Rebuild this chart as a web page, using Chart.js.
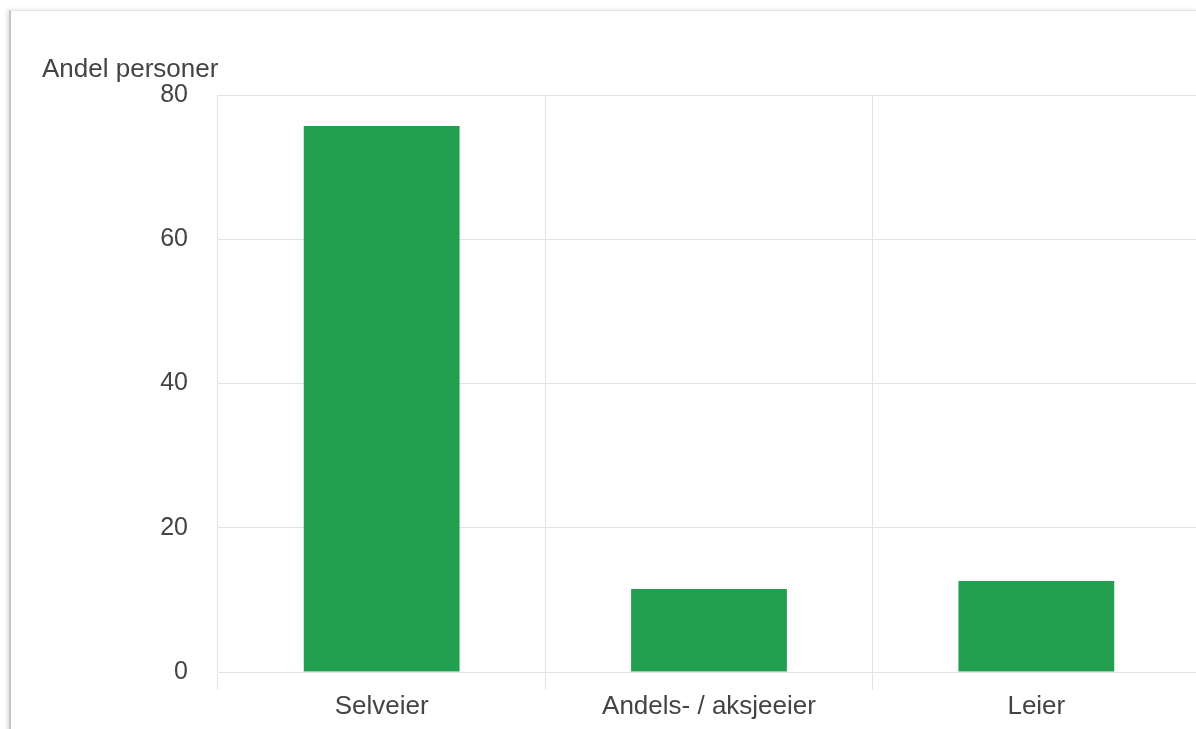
<!DOCTYPE html>
<html>
<head>
<meta charset="utf-8">
<script src="https://cdn.jsdelivr.net/npm/chart.js@4"></script>
<style>
  html, body { margin: 0; padding: 0; background: #fff; overflow: hidden; width: 1196px; height: 729px; }
  #card {
    position: absolute; left: 9px; top: 10px; width: 1186px; height: 740px;
    border-left: 2px solid #c4c4c4; border-top: 1px solid #e4e4e4; border-right: 1px solid #e8e8e8;
    box-shadow: -2px 0 4px rgba(0,0,0,0.12);
  }
  #yTitle {
    position: absolute; left: 42px; top: 55px; line-height: 26px;
    font-family: "Liberation Sans", Arial, sans-serif; font-size: 26px; color: #444;
  }
  #wrap { position: absolute; left: 0; top: 0; width: 1200px; height: 729px; }
</style>
</head>
<body>
<div id="card"></div>
<div id="wrap"><canvas id="chart"></canvas></div>
<div id="yTitle">Andel personer</div>
<script>
// Boligform – andel personer
const categories = ['Selveier', 'Andels- / aksjeeier', 'Leier'];
const shares = [75.7, 11.5, 12.6];
const yTicks = [0, 20, 40, 60, 80];

const GRID = '#e2e2ea';
const TEXT = '#444';
const X_FONT = { family: '"Liberation Sans", Arial, sans-serif', size: 26 };
const Y_FONT = { family: '"Liberation Sans", Arial, sans-serif', size: 25 };

const ctx = document.getElementById('chart').getContext('2d');
new Chart(ctx, {
    type: 'bar',
    data: {
        labels: categories,
        datasets: [{
            label: 'Andel personer',
            data: shares,
            backgroundColor: '#22a04f',
            barPercentage: 0.476,
            categoryPercentage: 1
        }]
    },
    options: {
        responsive: true,
        maintainAspectRatio: false,
        animation: false,
        layout: { padding: { top: 95, left: 0, right: 0, bottom: 0 } },
        plugins: { legend: { display: false }, tooltip: { enabled: false } },
        scales: {
            x: {
                grid: { color: GRID, lineWidth: 1, offset: true, tickLength: 18 },
                border: { color: GRID },
                ticks: { color: TEXT, font: X_FONT, padding: 1, maxRotation: 0 },
                afterFit: s => { s.height = 57; }
            },
            y: {
                min: 0, max: 80,
                afterBuildTicks: s => { s.ticks = yTicks.map(v => ({ value: v })); },
                grid: { color: GRID, drawTicks: false },
                border: { display: false },
                ticks: { color: TEXT, font: Y_FONT, padding: 30 },
                afterFit: s => { s.width = 218; }
            }
        }
    }
});
</script>
</body>
</html>
